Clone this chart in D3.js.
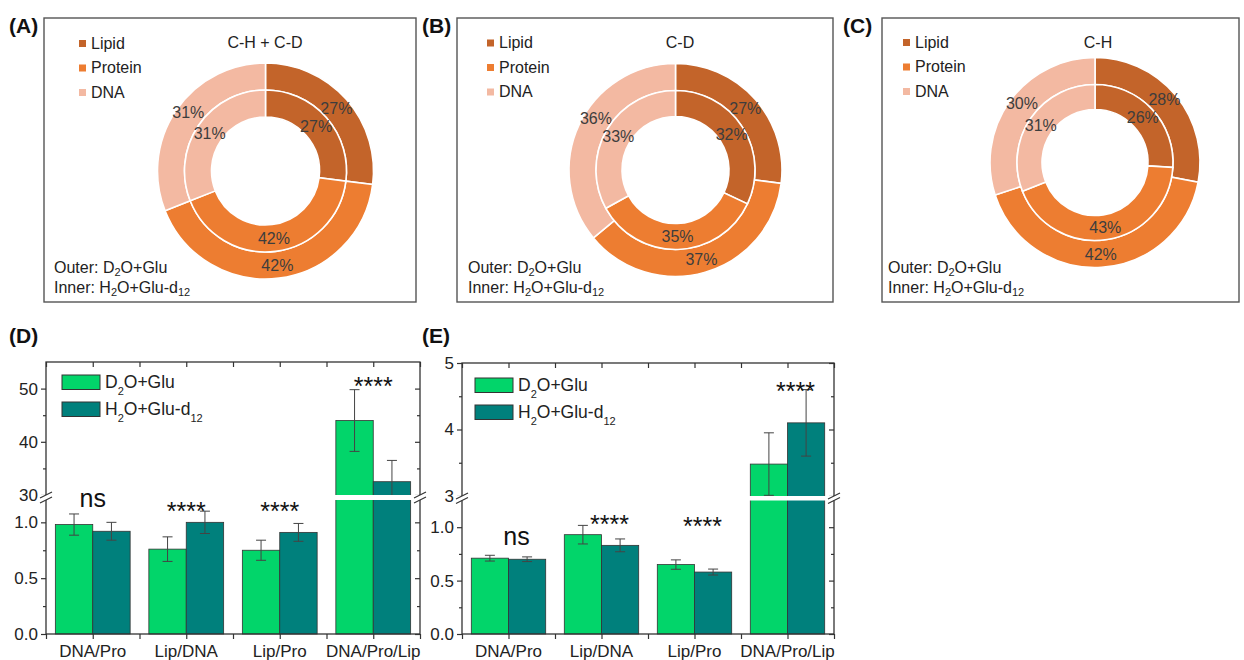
<!DOCTYPE html>
<html><head><meta charset="utf-8">
<script src="https://cdn.jsdelivr.net/npm/d3@7"></script>
<style>body{margin:0;background:#fff} svg{display:block} text{font-family:"Liberation Sans",Arial,sans-serif}</style>
</head><body><svg id="c" width="1244" height="660"></svg>
<script>
// ---------- data ----------
const groups = ["Lipid", "Protein", "DNA"];
const pieTitles = ["C-H + C-D", "C-D", "C-H"];
const outerA = [27, 42, 31], innerA = [27, 42, 31];
const outerB = [27, 37, 36], innerB = [32, 35, 33];
const outerC = [28, 42, 30], innerC = [26, 43, 31];

const ratioCats = ["DNA/Pro", "Lip/DNA", "Lip/Pro", "DNA/Pro/Lip"];
const dD2O = [0.98, 0.76, 0.75, 44.0], dD2Oerr = [0.095, 0.11, 0.09, 5.8];
const dH2O = [0.92, 1.00, 0.91, 32.5], dH2Oerr = [0.08, 0.10, 0.08, 4.0];
const eD2O = [0.71, 0.93, 0.65, 3.48], eD2Oerr = [0.027, 0.087, 0.044, 0.47];
const eH2O = [0.70, 0.83, 0.58, 4.10], eH2Oerr = [0.022, 0.06, 0.028, 0.50];
const dSig = ["ns", "****", "****", "****"], dSigLevel = [1.134, 1.018, 1.018, 48.8];
const eSig = ["ns", "****", "****", "****"], eSigLevel = [0.83, 0.942, 0.923, 4.44];
const dLowTicks = [0, 0.5, 1.0], dLowMinor = [0.25, 0.75], dUpTicks = [30, 40, 50], dUpMinor = [35, 45];
const eLowTicks = [0, 0.5, 1.0], eLowMinor = [0.25, 0.75], eUpTicks = [3, 4, 5], eUpMinor = [3.5, 4.5];

// ---------- styles ----------
const pieColors = ["#C3642A", "#ED7D31", "#F3B9A2"];
const barColors = ["#02D56A", "#00807C"];
const svg = d3.select("#c");
const FONT = '"Liberation Sans",Arial,sans-serif';

function fixSub(sel, parts, big, small, shift) {
  let prevSub = false;
  parts.forEach(([t, sub]) => {
    const ts = sel.append("tspan").text(t).attr("font-size", sub ? small : big);
    if (sub && !prevSub) ts.attr("dy", shift);
    if (!sub && prevSub) ts.attr("dy", -shift);
    prevSub = sub;
  });
}
function overlaps(a, b) {
  const r1 = a.getBBox(), r2 = b.getBBox();
  const m = (n) => { const t = n.transform.baseVal.consolidate().matrix; return [t.e, t.f]; };
  const [ax, ay] = m(a), [bx, by] = m(b);
  return !(ax + r1.x + r1.width < bx + r2.x || bx + r2.x + r2.width < ax + r1.x ||
           ay + r1.y + r1.height < by + r2.y || by + r2.y + r2.height < ay + r1.y);
}

// ---------- panel letters ----------
[["(A)", 9, 33], ["(B)", 422, 33], ["(C)", 843, 33], ["(D)", 9, 343], ["(E)", 422, 343]].forEach(([t, x, y]) => {
  svg.append("text").attr("x", x).attr("y", y).attr("font-size", 21).attr("font-weight", "bold").attr("fill", "#111").text(t);
});

// ---------- donuts ----------
const pieCfg = [
  {box: [44, 18, 416, 302], cx: 265.5, cy: 171, r: [54, 81, 108], titleX: 265, legX: 79, noteX: 54, legY: 48.5},
  {box: [457, 18, 833, 302], cx: 675.5, cy: 170, r: [53.5, 79.5, 106.5], titleX: 680, legX: 487, noteX: 468, legY: 48},
  {box: [882, 18, 1239, 302], cx: 1095, cy: 162.5, r: [53, 78, 105], titleX: 1098, legX: 903, noteX: 888, legY: 47.5}
];
const pieData = [[outerA, innerA], [outerB, innerB], [outerC, innerC]];
const pie = d3.pie().sort(null).value(d => d);

pieCfg.forEach((cfg, i) => {
  const g = svg.append("g");
  const [bx0, by0, bx1, by1] = cfg.box;
  g.append("rect").attr("x", bx0).attr("y", by0).attr("width", bx1 - bx0).attr("height", by1 - by0)
    .attr("fill", "none").attr("stroke", "#555").attr("stroke-width", 1.4);
  const [outer, inner] = pieData[i];
  const rings = [{vals: outer, ri: cfg.r[1], ro: cfg.r[2]}, {vals: inner, ri: cfg.r[0], ro: cfg.r[1]}];
  const c = g.append("g").attr("transform", `translate(${cfg.cx},${cfg.cy})`);
  const labels = [];
  rings.forEach(ring => {
    const arc = d3.arc().innerRadius(ring.ri).outerRadius(ring.ro);
    const arcs = pie(ring.vals);
    c.selectAll(null).data(arcs).enter().append("path")
      .attr("d", arc).attr("fill", (d, k) => pieColors[k]).attr("stroke", "#fff").attr("stroke-width", 1.6);
    labels.push(c.selectAll(null).data(arcs).enter().append("text")
      .attr("transform", d => `translate(${arc.centroid(d)})`)
      .attr("text-anchor", "middle").attr("dy", "0.36em").attr("font-size", 16).attr("fill", "#3d3d3d")
      .text(d => d.data + "%").nodes());
  });
  // nudge an outer label along its slice when it collides with the inner one
  const rMid = (cfg.r[1] + cfg.r[2]) / 2;
  labels[0].forEach((node, k) => {
    const inn = labels[1][k];
    if (!overlaps(node, inn)) return;
    const d = d3.select(node).datum();
    const mid = (d.startAngle + d.endAngle) / 2;
    for (let step = 1; step < 40; step++) {
      let done = false;
      for (const sgn of [1, -1]) {
        const a = mid + sgn * step * Math.PI / 180;
        if (a < d.startAngle + 0.05 || a > d.endAngle - 0.05) continue;
        d3.select(node).attr("transform", `translate(${rMid * Math.sin(a)},${-rMid * Math.cos(a) - 4})`);
        if (!overlaps(node, inn)) { done = true; break; }
      }
      if (done) break;
    }
  });
  g.append("text").attr("x", cfg.titleX).attr("y", 48).attr("text-anchor", "middle").attr("font-size", 16).attr("fill", "#222").text(pieTitles[i]);
  groups.forEach((name, k) => {
    const by = cfg.legY + k * 24.5;
    g.append("rect").attr("x", cfg.legX).attr("y", by - 8.5).attr("width", 7).attr("height", 7).attr("fill", pieColors[k]);
    g.append("text").attr("x", cfg.legX + 12).attr("y", by).attr("font-size", 16).attr("fill", "#222").text(name);
  });
  const t1 = g.append("text").attr("x", cfg.noteX).attr("y", 272.5).attr("fill", "#222");
  fixSub(t1, [["Outer: D", false], ["2", true], ["O+Glu", false]], 16, 11, 3);
  const t2 = g.append("text").attr("x", cfg.noteX).attr("y", 293).attr("fill", "#222");
  fixSub(t2, [["Inner: H", false], ["2", true], ["O+Glu-d", false], ["12", true]], 16, 11, 3);
});

// ---------- bar panels ----------
function drawBars(cfg, s1, e1, s2, e2, sig, sigLevel, lowTicks, lowMinor, upTicks, upMinor, lowFmt, upFmt) {
  const g = svg.append("g");
  const {x0, x1, yTop, yBot, gapTop, gapBot} = cfg;
  const yLow = d3.scaleLinear().domain(cfg.lowDomain).range([yBot, gapBot]);
  const yUp = d3.scaleLinear().domain(cfg.upDomain).range([gapTop, yTop]);
  const y = v => v <= cfg.lowDomain[1] ? yLow(v) : (v >= cfg.upDomain[0] ? yUp(v) : (gapTop + gapBot) / 2);
  const x = d3.scaleBand().domain(ratioCats).range([x0, x1]).paddingInner(0.2).paddingOuter(0.1);
  const xs = d3.scaleBand().domain([0, 1]).range([0, x.bandwidth()]);
  const series = [[s1, e1], [s2, e2]];
  series.forEach(([vals, errs], si) => {
    g.selectAll(null).data(ratioCats).enter().append("rect")
      .attr("x", d => x(d) + xs(si)).attr("width", xs.bandwidth())
      .attr("y", (d, k) => y(vals[k])).attr("height", (d, k) => yBot - y(vals[k]))
      .attr("fill", barColors[si]).attr("stroke", "#333").attr("stroke-width", 0.8);
  });
  series.forEach(([vals, errs], si) => {
    ratioCats.forEach((cat, k) => {
      const cx = x(cat) + xs(si) + xs.bandwidth() / 2;
      const v = vals[k], hi = v + errs[k];
      let lo = v - errs[k], loCap = true;
      if (v > cfg.lowDomain[1] && lo < cfg.upDomain[0]) { lo = cfg.upDomain[0]; loCap = false; }
      const eg = g.append("g").attr("stroke", "#444").attr("stroke-width", 1);
      eg.append("line").attr("x1", cx).attr("x2", cx).attr("y1", y(hi)).attr("y2", y(lo));
      eg.append("line").attr("x1", cx - 5).attr("x2", cx + 5).attr("y1", y(hi)).attr("y2", y(hi));
      if (loCap) eg.append("line").attr("x1", cx - 5).attr("x2", cx + 5).attr("y1", y(lo)).attr("y2", y(lo));
    });
  });
  // frame
  g.append("rect").attr("x", x0).attr("y", yTop).attr("width", x1 - x0).attr("height", yBot - yTop)
    .attr("fill", "none").attr("stroke", "#333").attr("stroke-width", 1.3);
  const styleAxis = a => { a.select(".domain").remove(); a.selectAll("line").attr("stroke", "#333").attr("stroke-width", 1.2);
    a.attr("font-family", FONT).attr("font-size", 17); a.selectAll("text").attr("fill", "#222"); };
  [[yLow, lowTicks, lowMinor, lowFmt], [yUp, upTicks, upMinor, upFmt]].forEach(([sc, tv, mv, fmt]) => {
    g.append("g").attr("transform", `translate(${x0},0)`).call(d3.axisLeft(sc).tickValues(tv).tickFormat(fmt).tickSize(5).tickPadding(3)).call(styleAxis);
    g.append("g").attr("transform", `translate(${x0},0)`).call(d3.axisLeft(sc).tickValues(mv).tickFormat("").tickSize(3)).call(styleAxis);
    g.append("g").attr("transform", `translate(${x1},0)`).call(d3.axisLeft(sc).tickValues(tv).tickFormat("").tickSize(5)).call(styleAxis);
    g.append("g").attr("transform", `translate(${x1},0)`).call(d3.axisLeft(sc).tickValues(mv).tickFormat("").tickSize(3)).call(styleAxis);
  });
  const xl = d3.scaleLinear().domain([0, 8]).range([x0, x1]);
  g.append("g").attr("transform", `translate(0,${yBot})`).call(d3.axisBottom(xl).tickValues(d3.range(9)).tickFormat("").tickSize(5)).call(styleAxis);
  g.append("g").attr("transform", `translate(0,${yTop})`).call(d3.axisBottom(xl).tickValues(d3.range(9)).tickFormat("").tickSize(5)).call(styleAxis);
  g.append("g").attr("transform", `translate(0,${yBot})`).call(d3.axisBottom(x).tickSize(0).tickPadding(11)).call(styleAxis);
  // axis break
  g.append("rect").attr("x", x0 - 8).attr("y", gapTop).attr("width", x1 - x0 + 16).attr("height", gapBot - gapTop).attr("fill", "#fff");
  [x0, x1].forEach(ax => {
    [gapTop, gapBot].forEach(yy => {
      g.append("line").attr("x1", ax - 6).attr("x2", ax + 6).attr("y1", yy + 3).attr("y2", yy - 3).attr("stroke", "#333").attr("stroke-width", 1.2);
    });
  });
  // significance
  ratioCats.forEach((cat, k) => {
    g.append("text").attr("x", x(cat) + x.bandwidth() / 2 + cfg.sigDx).attr("y", y(sigLevel[k])).attr("text-anchor", "middle")
      .attr("font-size", 25).attr("fill", "#111").text(sig[k]);
  });
  // legend
  const legNames = [[["D", false], ["2", true], ["O+Glu", false]], [["H", false], ["2", true], ["O+Glu-d", false], ["12", true]]];
  legNames.forEach((parts, k) => {
    const ly = cfg.legY + k * 27;
    g.append("rect").attr("x", cfg.legX).attr("y", ly).attr("width", 38).attr("height", 14.5)
      .attr("fill", barColors[k]).attr("stroke", "#333").attr("stroke-width", 1);
    const t = g.append("text").attr("x", cfg.legX + 43).attr("y", ly + 12.5).attr("fill", "#222");
    fixSub(t, parts, 17.5, 11, 7);
  });
}

drawBars({x0: 46, x1: 420, yTop: 362, yBot: 634, gapTop: 495, gapBot: 500, lowDomain: [0, 1.2], upDomain: [30, 55], legX: 62, legY: 375, sigDx: 0},
  dD2O, dD2Oerr, dH2O, dH2Oerr, dSig, dSigLevel, dLowTicks, dLowMinor, dUpTicks, dUpMinor, d3.format(".1f"), d3.format("d"));
drawBars({x0: 462, x1: 834, yTop: 363, yBot: 634, gapTop: 496, gapBot: 500.5, lowDomain: [0, 1.25], upDomain: [3, 5], legX: 475, legY: 378, sigDx: 8},
  eD2O, eD2Oerr, eH2O, eH2Oerr, eSig, eSigLevel, eLowTicks, eLowMinor, eUpTicks, eUpMinor, d3.format(".1f"), d3.format("d"));
</script></body></html>
